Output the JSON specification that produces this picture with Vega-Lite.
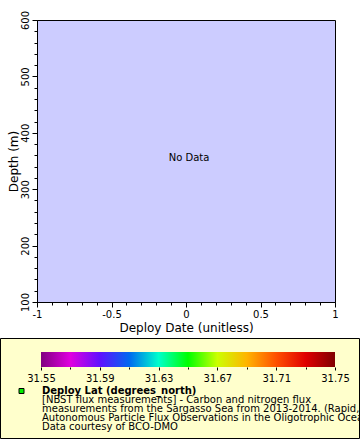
{
  "$schema": "https://vega.github.io/schema/vega-lite/v6.json",
  "width": 298,
  "height": 282,
  "autosize": {"type": "none"},
  "padding": {"left": 37, "top": 20, "right": 25, "bottom": 138},
  "background": "white",
  "view": {"fill": "#ccccff", "stroke": "#000000", "strokeWidth": 1},
  "config": {
    "font": "DejaVu Sans",
    "view": {"fill": "#ccccff", "stroke": "#000000", "strokeWidth": 1},
    "axis": {
      "grid": false,
      "domainColor": "#000000",
      "tickColor": "#000000",
      "labelColor": "#000000",
      "titleColor": "#000000",
      "labelFont": "DejaVu Sans",
      "titleFont": "DejaVu Sans",
      "labelFontSize": 10,
      "titleFontSize": 12,
      "titleFontWeight": "normal",
      "labelPadding": 2,
      "labelOverlap": false,
      "labelFlush": false
    }
  },
  "layer": [
    {
      "data": {"values": [{"message": "No Data"}]},
      "mark": {"type": "text", "fontSize": 10, "color": "#000000", "align": "center", "baseline": "alphabetic", "dx": 3},
      "encoding": {
        "x": {
          "datum": 0,
          "type": "quantitative",
          "scale": {"domain": [-1, 1], "nice": false, "zero": false},
          "axis": {
            "orient": "bottom",
            "title": "Deploy Date (unitless)",
            "titlePadding": 3,
            "values": [-1, -0.9, -0.8, -0.7, -0.6, -0.5, -0.4, -0.3, -0.2, -0.1, 0, 0.1, 0.2, 0.3, 0.4, 0.5, 0.6, 0.7, 0.8, 0.9, 1],
            "labelExpr": "abs(datum.value * 2 - round(datum.value * 2)) < 0.001 ? toString(round(datum.value * 2) / 2) : ''",
            "tickSize": {"condition": {"test": "abs(datum.value * 2 - round(datum.value * 2)) < 0.001", "value": 5}, "value": 3}
          }
        },
        "y": {
          "datum": 350,
          "type": "quantitative",
          "scale": {"domain": [100, 600], "nice": false, "zero": false},
          "axis": {
            "title": "Depth (m)",
            "titlePadding": 0,
            "labelAngle": -90,
            "values": [100, 120, 140, 160, 180, 200, 220, 240, 260, 280, 300, 320, 340, 360, 380, 400, 420, 440, 460, 480, 500, 520, 540, 560, 580, 600],
            "labelExpr": "datum.value % 100 == 0 ? toString(datum.value) : ''",
            "tickSize": {"condition": {"test": "datum.value % 100 == 0", "value": 5}, "value": 3}
          }
        },
        "text": {"field": "message"}
      }
    },
    {
      "data": {"values": [{"panel": "legend"}]},
      "mark": {"type": "rect", "x": -36.5, "x2": 322.5, "y": 318.5, "y2": 418.5, "fill": "#ffffcc", "stroke": "#000000", "strokeWidth": 1},
      "encoding": {}
    },
    {
      "data": {"values": [{"lat_min": 31.55, "lat_max": 31.75}]},
      "mark": {
        "type": "rect",
        "y": 332,
        "y2": 347,
        "fill": {
          "gradient": "linear",
          "x1": 0, "y1": 0, "x2": 1, "y2": 0,
          "stops": [
            {"offset": 0, "color": "#800080"},
            {"offset": 0.1, "color": "#e000e0"},
            {"offset": 0.2, "color": "#6010ff"},
            {"offset": 0.3, "color": "#0068f0"},
            {"offset": 0.4, "color": "#00ffcc"},
            {"offset": 0.5, "color": "#00ff00"},
            {"offset": 0.6, "color": "#ccff00"},
            {"offset": 0.7, "color": "#ffb400"},
            {"offset": 0.8, "color": "#ff5000"},
            {"offset": 0.9, "color": "#e00000"},
            {"offset": 1, "color": "#800000"}
          ]
        }
      },
      "encoding": {
        "x": {
          "field": "lat_min",
          "type": "quantitative",
          "scale": {"domain": [31.55, 31.75], "range": [4, 298], "nice": false, "zero": false},
          "axis": {
            "orient": "bottom",
            "offset": 65,
            "zindex": 2,
            "domain": false,
            "title": null,
            "labelPadding": 3,
            "values": [31.55, 31.57, 31.59, 31.61, 31.63, 31.65, 31.67, 31.69, 31.71, 31.73, 31.75],
            "labelExpr": "round((datum.value - 31.55) / 0.02) % 2 == 0 ? format(datum.value, '.2f') : ''",
            "tickSize": {"condition": {"test": "round((datum.value - 31.55) / 0.02) % 2 == 0", "value": 3}, "value": 2}
          }
        },
        "x2": {"field": "lat_max"}
      }
    },
    {
      "data": {"values": [{"series": "Deploy Lat (degrees_north)", "desc": "[NBST flux measurements] - Carbon and nitrogen flux\nmeasurements from the Sargasso Sea from 2013-2014. (Rapid,\nAutonomous Particle Flux Observations in the Oligotrophic Ocean)\nData courtesy of BCO-DMO"}]},
      "layer": [
        {
          "mark": {"type": "square", "x": -15.5, "y": 371, "size": 25, "filled": true, "fill": "#00ee00", "stroke": "#000000", "strokeWidth": 1, "opacity": 1},
          "encoding": {}
        },
        {
          "mark": {"type": "text", "x": 5, "y": 374, "align": "left", "baseline": "alphabetic", "fontSize": 10, "fontWeight": "bold", "color": "#000000"},
          "encoding": {"text": {"field": "series"}}
        },
        {
          "mark": {"type": "text", "x": 5, "y": 383, "align": "left", "baseline": "alphabetic", "fontSize": 10, "lineBreak": "\n", "lineHeight": 9, "color": "#000000"},
          "encoding": {"text": {"field": "desc"}}
        }
      ]
    }
  ],
  "resolve": {"scale": {"x": "independent"}, "axis": {"x": "independent"}}
}
